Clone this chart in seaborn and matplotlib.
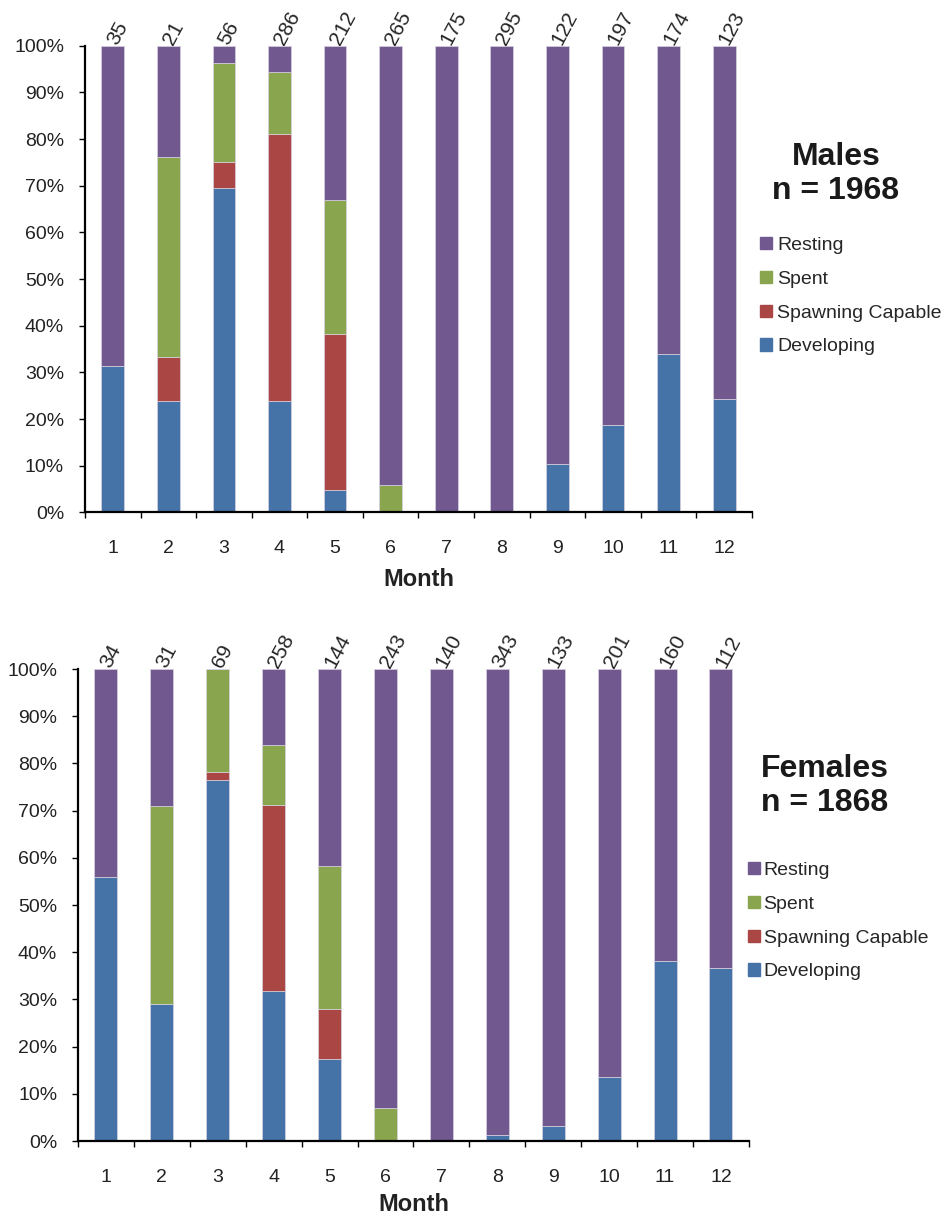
import seaborn as sns
import matplotlib.pyplot as plt
import matplotlib.patches as mpatches
import numpy as np

sns.set_style('ticks')
plt.rcParams['font.family'] = ['Liberation Sans', 'DejaVu Sans']

months = [str(m) for m in range(1, 13)]
stages = ['Developing', 'Spawning Capable', 'Spent', 'Resting']
colors = ['#4572A7', '#AA4643', '#89A54E', '#71588F']

# males, percent of each stage per month
male_n = [35, 21, 56, 286, 212, 265, 175, 295, 122, 197, 174, 123]
male_dev = [31.4, 23.8, 69.6, 23.8, 4.7, 0, 0, 0, 10.3, 18.7, 33.9, 24.3]
male_spc = [0, 9.5, 5.4, 57.3, 33.5, 0, 0, 0, 0, 0, 0, 0]
male_spent = [0, 42.9, 21.4, 13.3, 28.8, 5.9, 0, 0, 0, 0, 0, 0]
male_rest = [68.6, 23.8, 3.6, 5.6, 33.0, 94.1, 100, 100, 89.7, 81.3, 66.1, 75.7]

# females
female_n = [34, 31, 69, 258, 144, 243, 140, 343, 133, 201, 160, 112]
female_dev = [56.0, 29.0, 76.4, 31.7, 17.3, 0, 0, 1.3, 3.2, 13.6, 38.1, 36.6]
female_spc = [0, 0, 1.7, 39.6, 10.6, 0, 0, 0, 0, 0, 0, 0]
female_spent = [0, 42.0, 21.9, 12.6, 30.4, 6.9, 0, 0, 0, 0, 0, 0]
female_rest = [44.0, 29.0, 0, 16.1, 41.7, 93.1, 100, 98.7, 96.8, 86.4, 61.9, 63.4]


def draw(ax, layers, counts, labelpad):
    bottom = np.zeros(len(months))
    for vals, c in zip(layers, colors):
        sns.barplot(x=months, y=vals, bottom=bottom, color=c, saturation=1,
                    width=0.41, edgecolor='#D8D2E2', linewidth=0.5, ax=ax)
        bottom = bottom + np.array(vals)

    ax.set_xlim(-0.5, 11.5)
    ax.set_ylim(0, 100)
    ax.set_yticks(range(0, 101, 10))
    ax.set_yticklabels([f'{v}%' for v in range(0, 101, 10)], fontsize=14, color='#222222')
    ax.set_xticks(np.arange(-0.5, 12, 1))
    ax.set_xticklabels([])
    ax.set_xticks(range(12), minor=True)
    ax.set_xticklabels(months, minor=True, fontsize=14, color='#222222')
    ax.tick_params(axis='x', which='major', direction='out', length=4, width=1, color='black')
    ax.tick_params(axis='x', which='minor', length=0, pad=20)
    ax.tick_params(axis='y', direction='out', length=4, width=1, color='black', pad=11)
    ax.set_xlabel('Month', fontsize=17, fontweight='bold', labelpad=labelpad, color='#222222')
    ax.set_ylabel('')
    sns.despine(ax=ax)
    for s in ['left', 'bottom']:
        ax.spines[s].set_linewidth(1.6)
        ax.spines[s].set_color('black')

    for i, n in enumerate(counts):
        ax.text(i + 0.08, 100, str(n), rotation=62, ha='left', va='baseline',
                rotation_mode='anchor', fontsize=15, clip_on=False)


fig = plt.figure(figsize=(9.45, 12.17), dpi=100)
ax1 = fig.add_axes([0.0899, 0.579, 0.7058, 0.3834])
ax2 = fig.add_axes([0.0825, 0.0624, 0.710, 0.3878])

draw(ax1, [male_dev, male_spc, male_spent, male_rest], male_n, 8)
draw(ax2, [female_dev, female_spc, female_spent, female_rest], female_n, 5)

handles = [mpatches.Patch(color=c, label=s) for s, c in zip(stages, colors)][::-1]

fig.text(836 / 945, 1 - 174 / 1217, 'Males\nn = 1968', ha='center', va='center',
         fontsize=23, fontweight='bold', linespacing=1.15, color='#1a1a1a')
fig.legend(handles=handles, loc='upper left', bbox_to_anchor=(760 / 945, 1 - 237 / 1217),
           frameon=False, fontsize=14, handlelength=0.6, handleheight=0.6,
           handletextpad=0.3, labelspacing=0.86, borderpad=0, borderaxespad=0)

fig.text(825 / 945, 1 - 786 / 1217, 'Females\nn = 1868', ha='center', va='center',
         fontsize=23, fontweight='bold', linespacing=1.2, color='#1a1a1a')
fig.legend(handles=handles, loc='upper left', bbox_to_anchor=(748 / 945, 1 - 862 / 1217),
           frameon=False, fontsize=14, handlelength=0.6, handleheight=0.6,
           handletextpad=0.2, labelspacing=0.86, borderpad=0, borderaxespad=0)

fig.savefig('out.png', dpi=100)
